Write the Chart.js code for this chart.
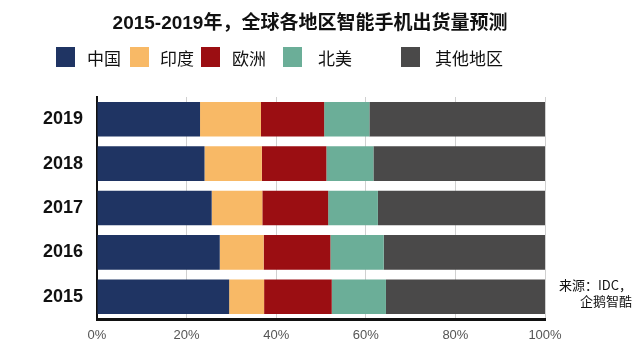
<!DOCTYPE html>
<html>
<head>
<meta charset="utf-8">
<script src="https://cdn.jsdelivr.net/npm/chart.js@4.4.1/dist/chart.umd.min.js"></script>
<style>
    body { margin:0; background:#fff; }
    #wrap { position:relative; width:640px; height:348px; font-family:"Liberation Sans","Noto Sans CJK SC",sans-serif; }
    #title { position:absolute; left:0; top:7px; width:620px; text-align:center; font-size:19px; font-weight:bold; color:#111; }
    .leg { position:absolute; top:47px; height:20px; display:flex; align-items:center; font-size:17px; color:#111; font-family:"Noto Sans CJK SC",sans-serif; }
    .leg span.box { display:inline-block; width:19px; height:20px; margin-right:12px; }
    #source { position:absolute; right:8px; top:277px; text-align:right; font-size:13px; line-height:16px; color:#111; font-family:"Noto Sans CJK SC",sans-serif; }
</style>
</head>
<body>
<div id="wrap">
    <div id="title">2015-2019年，全球各地区智能手机出货量预测</div>
    <div id="legend"></div>
    <canvas id="shipChart" width="640" height="348"></canvas>
    <div id="source">来源：IDC，<br>企鹅智酷</div>
</div>
<script>
const years = ['2019', '2018', '2017', '2016', '2015'];
const regions = ['中国', '印度', '欧洲', '北美', '其他地区'];
const china = [23.0, 24.0, 25.6, 27.4, 29.5];
const india = [13.6, 12.8, 11.3, 9.8, 7.8];
const europe = [14.1, 14.4, 14.7, 14.9, 15.1];
const northAmerica = [10.1, 10.5, 11.1, 11.9, 12.1];
const others = [39.2, 38.3, 37.3, 36.0, 35.5];
const xTicks = [0, 20, 40, 60, 80, 100];

const colors = ['#1f3463', '#f8b966', '#9b0e12', '#6bae98', '#4a4949'];
const legendX = [56, 130, 201, 283, 401];
const legendGap = [12, 11, 12, 16, 15];

// legend drawn as html so the uneven spacing can be kept
const legendDiv = document.getElementById('legend');
regions.forEach((name, i) => {
    const item = document.createElement('div');
    item.className = 'leg';
    item.style.left = legendX[i] + 'px';
    item.innerHTML = `<span class="box" style="background:${colors[i]};margin-right:${legendGap[i]}px"></span>${name}`;
    legendDiv.appendChild(item);
});

const seriesData = [china, india, europe, northAmerica, others];
const datasets = regions.map((name, i) => ({
    label: name,
    data: seriesData[i],
    backgroundColor: colors[i],
    borderWidth: 0,
    barPercentage: 0.78,
    categoryPercentage: 1
}));

const ctx = document.getElementById('shipChart').getContext('2d');
new Chart(ctx, {
    type: 'bar',
    data: { labels: years, datasets },
    options: {
        indexAxis: 'y',
        responsive: false,
        animation: false,
        layout: { padding: { top: 97, right: 95, left: 0, bottom: 0 } },
        plugins: { legend: { display: false }, tooltip: { enabled: false }, title: { display: false } },
        scales: {
            x: {
                stacked: true,
                min: 0,
                max: 100,
                afterBuildTicks: axis => { axis.ticks = xTicks.map(v => ({ value: v })); },
                afterFit: axis => { axis.height = 29; },
                grid: { color: '#d0d0d0', lineWidth: 1, drawTicks: false },
                border: { color: '#111', width: 3 },
                ticks: {
                    padding: 9,
                    color: '#555',
                    font: { family: 'Liberation Sans', size: 13 },
                    callback: v => v + '%'
                }
            },
            y: {
                stacked: true,
                afterFit: axis => { axis.width = 97; },
                grid: { display: false },
                border: { color: '#111', width: 2 },
                ticks: {
                    padding: 6,
                    color: '#111',
                    font: { family: 'Liberation Sans', size: 18, weight: 'bold' }
                }
            }
        }
    }
});
</script>
</body>
</html>
